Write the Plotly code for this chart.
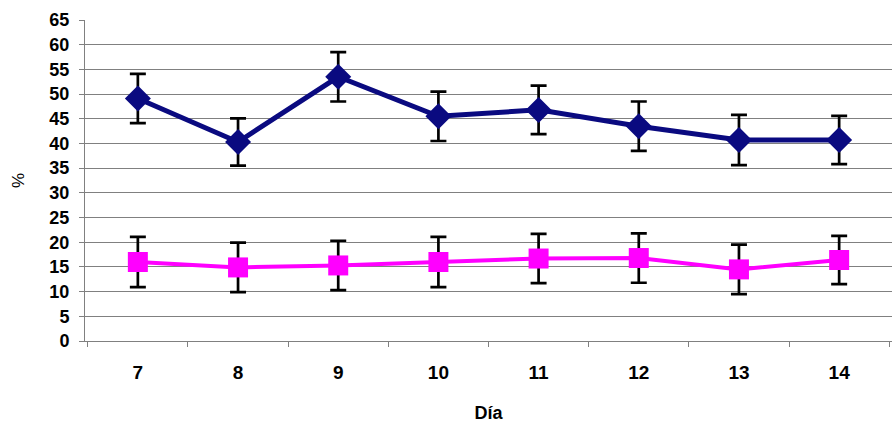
import plotly.graph_objects as go

days = ["7", "8", "9", "10", "11", "12", "13", "14"]
serie_azul = [49.1, 40.3, 53.5, 45.5, 46.8, 43.5, 40.7, 40.7]
error_azul = [5, 4.8, 5, 5, 4.9, 5, 5.1, 4.9]
serie_rosa = [16.0, 14.9, 15.3, 16.0, 16.7, 16.8, 14.5, 16.4]
error_rosa = [5.1, 5.0, 5.0, 5.1, 5.0, 5.0, 5.0, 4.9]
y_ticks = list(range(0, 70, 5))
grid_ticks = list(range(0, 65, 5))

FONT = "Liberation Sans, Arial, sans-serif"

fig = go.Figure()
fig.add_trace(go.Scatter(
    x=days, y=serie_azul, mode="lines+markers",
    line=dict(color="#0a0a80", width=5),
    marker=dict(symbol="diamond", size=20, color="#0a0a80"),
    error_y=dict(type="data", array=error_azul, color="black", thickness=2.7, width=8),
    showlegend=False,
))
fig.add_trace(go.Scatter(
    x=days, y=serie_rosa, mode="lines+markers",
    line=dict(color="#ff00ff", width=4),
    marker=dict(symbol="square", size=20, color="#ff00ff"),
    error_y=dict(type="data", array=error_rosa, color="black", thickness=2.7, width=8),
    showlegend=False,
))
# invisible trace on the label axis
fig.add_trace(go.Scatter(x=days, y=serie_rosa, yaxis="y2", mode="none",
                         showlegend=False, hoverinfo="skip"))

fig.update_layout(
    width=893, height=425,
    margin=dict(l=85, r=1, t=20, b=84),
    plot_bgcolor="white", paper_bgcolor="white",
    font=dict(family=FONT, color="black"),
    xaxis=dict(
        type="category", showline=True, linecolor="#808080", linewidth=1,
        ticks="outside", tickson="boundaries", ticklen=5, tickcolor="#808080",
        tickfont=dict(size=19, family=FONT, weight="bold"),
        ticklabelstandoff=14,
        title=dict(text="<b>Día</b>", font=dict(size=18), standoff=24),
        showgrid=False, automargin=False,
    ),
    yaxis=dict(
        range=[0, 65], tickvals=grid_ticks, showticklabels=False,
        showgrid=True, gridcolor="#808080", gridwidth=1, zeroline=False,
        showline=False, ticks="", automargin=False,
    ),
    yaxis2=dict(
        range=[0, 65], overlaying="y", side="left", tickvals=y_ticks,
        showgrid=False, zeroline=False, showline=True, linecolor="#808080",
        ticks="outside", ticklen=5, tickcolor="#808080",
        tickfont=dict(size=18, family=FONT, weight="bold"),
        ticklabelstandoff=6,
        title=dict(text="%", font=dict(size=17), standoff=20),
        automargin=False,
    ),
)

fig.write_html("out.html", config={"displayModeBar": False},
               post_script="document.body.style.margin='0';document.body.style.overflow='hidden';")
